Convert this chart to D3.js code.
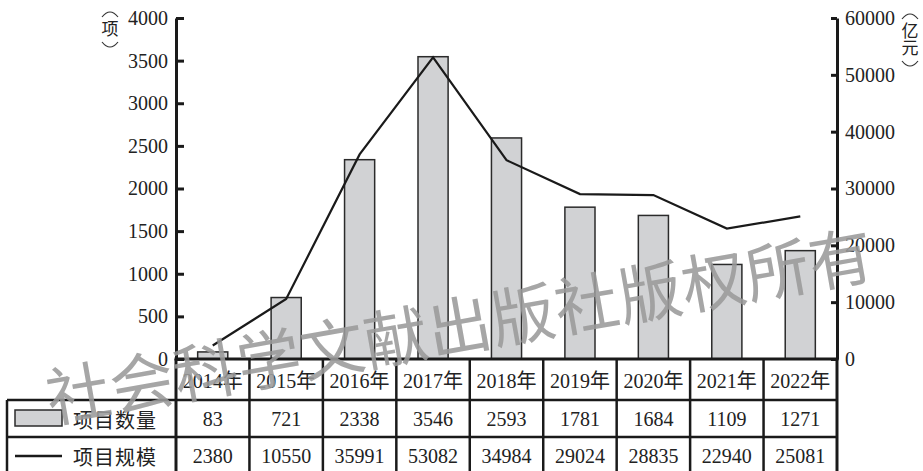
<!DOCTYPE html>
<html>
<head>
<meta charset="utf-8">
<script src="https://cdn.jsdelivr.net/npm/d3@7/dist/d3.min.js"></script>
<style>
  html, body { margin: 0; padding: 0; background: #fff; }
  svg { display: block; }
</style>
</head>
<body>
<script>
// Years and the two series shown in the chart and the table below it
const years = ["2014年", "2015年", "2016年", "2017年", "2018年", "2019年", "2020年", "2021年", "2022年"];
const projectCount = [83, 721, 2338, 3546, 2593, 1781, 1684, 1109, 1271];      // 项目数量（项）
const projectScale = [2380, 10550, 35991, 53082, 34984, 29024, 28835, 22940, 25081]; // 项目规模（亿元）
const leftTicks = [0, 500, 1000, 1500, 2000, 2500, 3000, 3500, 4000];
const rightTicks = [0, 10000, 20000, 30000, 40000, 50000, 60000];
const seriesNames = ["项目数量", "项目规模"];
const leftUnit = "项";
const rightUnit = "亿元";
const watermark = "社会科学文献出版社版权所有";

const W = 923, H = 471;
const plot = { left: 176, right: 837, top: 18, bottom: 359 };
const table = { left: 7, headerBottom: 400, row1Bottom: 437, bottom: 480 };

const serif = "'Liberation Serif', 'Times New Roman', 'Noto Sans CJK SC', serif";
const cjk = "'Noto Sans CJK SC', 'Liberation Serif', sans-serif";

const svg = d3.select("body").append("svg")
  .attr("width", W).attr("height", H);

const x = d3.scaleBand().domain(years).range([plot.left, plot.right]).padding(0);
const yL = d3.scaleLinear().domain([0, 4000]).range([plot.bottom, plot.top]);
const yR = d3.scaleLinear().domain([0, 60000]).range([plot.bottom, plot.top]);

const barW = x.bandwidth() * 0.41;

// Bars: project count
svg.append("g").selectAll("rect").data(years).join("rect")
  .attr("x", (d) => x(d) + (x.bandwidth() - barW) / 2)
  .attr("y", (d, i) => yL(projectCount[i]))
  .attr("width", barW)
  .attr("height", (d, i) => plot.bottom - yL(projectCount[i]))
  .attr("fill", "#d1d2d4")
  .attr("stroke", "#2b2b2b")
  .attr("stroke-width", 1.5);

// Line: project scale
const line = d3.line()
  .x((d, i) => x(years[i]) + x.bandwidth() / 2)
  .y((d) => yR(d));
svg.append("path").datum(projectScale)
  .attr("d", line)
  .attr("fill", "none")
  .attr("stroke", "#1a1a1a")
  .attr("stroke-width", 2.2)
  .attr("stroke-linejoin", "miter");

// Left axis
const gL = svg.append("g").attr("transform", `translate(${plot.left},0)`)
  .call(d3.axisLeft(yL).tickValues(leftTicks).tickFormat(d3.format("d"))
    .tickSize(-8).tickSizeOuter(0).tickPadding(8));
// Right axis
const gR = svg.append("g").attr("transform", `translate(${plot.right},0)`)
  .call(d3.axisRight(yR).tickValues(rightTicks).tickFormat(d3.format("d"))
    .tickSize(-6).tickSizeOuter(0).tickPadding(8));
[gL, gR].forEach((g) => {
  g.select(".domain").attr("stroke", "#1a1a1a").attr("stroke-width", 3);
  g.selectAll(".tick line").attr("stroke", "#1a1a1a").attr("stroke-width", 3);
  g.selectAll(".tick text")
    .attr("font-family", serif).attr("font-size", 20).attr("fill", "#222");
});

// Axis unit labels, written vertically between bracket arcs
function verticalLabel(cx, top, label) {
  const fs = 17;
  const g = svg.append("g");
  g.append("path")
    .attr("d", `M${cx - 8},${top + 5} Q${cx},${top - 5} ${cx + 8},${top + 5}`)
    .attr("fill", "none").attr("stroke", "#333").attr("stroke-width", 1.2);
  g.append("text")
    .attr("x", cx).attr("y", top + 8)
    .style("writing-mode", "vertical-rl")
    .attr("font-family", cjk).attr("font-size", fs).attr("fill", "#222")
    .text(label);
  const b = top + 8 + label.length * fs + 5;
  g.append("path")
    .attr("d", `M${cx - 8},${b} Q${cx},${b + 10} ${cx + 8},${b}`)
    .attr("fill", "none").attr("stroke", "#333").attr("stroke-width", 1.2);
}
verticalLabel(110, 12, leftUnit);
verticalLabel(910, 14, rightUnit);

// Data table
const tbl = svg.append("g").attr("stroke", "#1a1a1a").attr("stroke-width", 2.5).attr("fill", "none");
tbl.append("line").attr("x1", table.left).attr("x2", plot.right)
  .attr("y1", table.headerBottom).attr("y2", table.headerBottom);
tbl.append("line").attr("x1", table.left).attr("x2", plot.right)
  .attr("y1", table.row1Bottom).attr("y2", table.row1Bottom);
tbl.append("line").attr("x1", table.left).attr("x2", table.left)
  .attr("y1", table.headerBottom).attr("y2", table.bottom);
const boundaries = years.map((d) => x(d)).concat([plot.right]);
tbl.selectAll("line.col").data(boundaries).join("line").attr("class", "col")
  .attr("x1", (d) => d).attr("x2", (d) => d)
  .attr("y1", plot.bottom).attr("y2", table.bottom)
  .attr("stroke-width", (d, i) => (i === 0 || i === boundaries.length - 1) ? 3 : 2.5);
// x axis baseline
svg.append("line").attr("x1", plot.left - 1.5).attr("x2", plot.right + 1.5)
  .attr("y1", plot.bottom).attr("y2", plot.bottom)
  .attr("stroke", "#1a1a1a").attr("stroke-width", 3);

const cellText = (sel) => sel.attr("font-family", serif).attr("font-size", 20)
  .attr("fill", "#222").attr("text-anchor", "middle").attr("dominant-baseline", "central");
const cx = (d) => x(d) + x.bandwidth() / 2;

svg.append("g").selectAll("text").data(years).join("text")
  .attr("x", cx).attr("y", 381).call(cellText).text((d) => d);
svg.append("g").selectAll("text").data(years).join("text")
  .attr("x", cx).attr("y", 419).call(cellText).text((d, i) => projectCount[i]);
svg.append("g").selectAll("text").data(years).join("text")
  .attr("x", cx).attr("y", 456).call(cellText).text((d, i) => projectScale[i]);

// Legend keys in the table's first column
svg.append("rect").attr("x", 15).attr("y", 410).attr("width", 47).attr("height", 16)
  .attr("fill", "#d1d2d4").attr("stroke", "#2b2b2b").attr("stroke-width", 1.5);
svg.append("line").attr("x1", 15).attr("x2", 62).attr("y1", 456).attr("y2", 456)
  .attr("stroke", "#1a1a1a").attr("stroke-width", 2.5);
svg.selectAll("text.leg").data(seriesNames).join("text").attr("class", "leg")
  .attr("x", 73).attr("y", (d, i) => i === 0 ? 419 : 456)
  .attr("font-family", cjk).attr("font-size", 20).attr("letter-spacing", 1)
  .attr("fill", "#222").attr("dominant-baseline", "central")
  .text((d) => d);

// Publisher watermark across the chart
svg.append("text")
  .attr("transform", "translate(459,322) rotate(-10)")
  .attr("text-anchor", "middle").attr("dominant-baseline", "central")
  .attr("font-family", cjk).attr("font-size", 64).attr("letter-spacing", 0.5)
  .attr("fill", "#9a9a9a").attr("fill-opacity", 0.88)
  .text(watermark);
</script>
</body>
</html>
